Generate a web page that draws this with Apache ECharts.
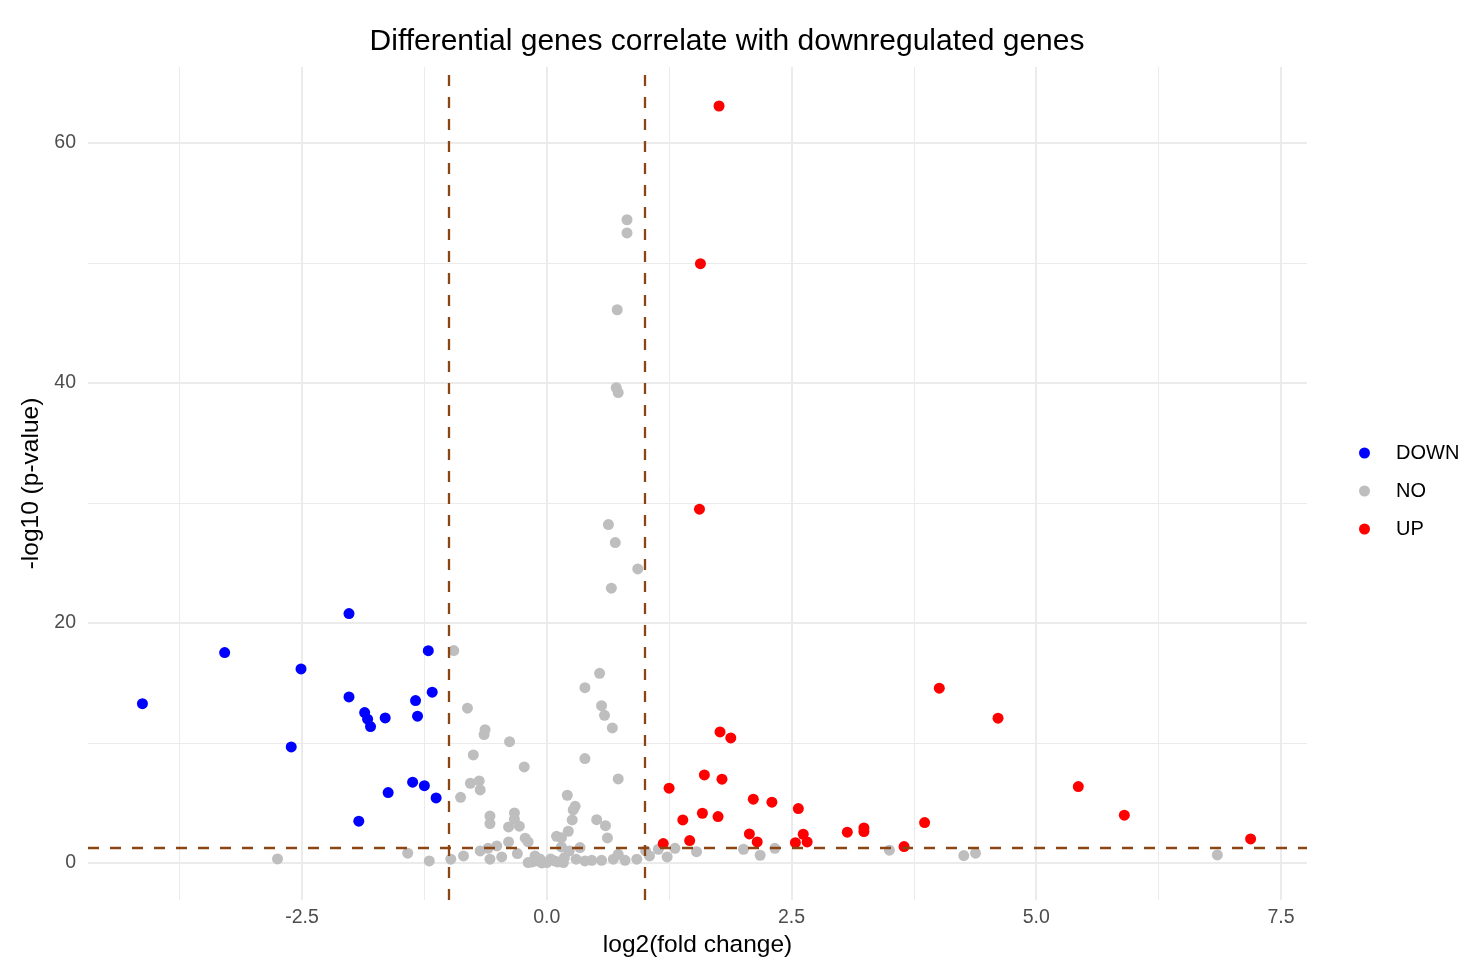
<!DOCTYPE html>
<html>
<head>
<meta charset="utf-8">
<script src="https://cdn.jsdelivr.net/npm/echarts@6/dist/echarts.min.js"></script>
<style>html,body{margin:0;padding:0;background:#fff;}#chart{width:1464px;height:962px;}</style>
</head>
<body>
<div id="chart"></div>
<script>
// ---- data ----
const downX = [-4.13,-3.29,-2.51,-2.61,-2.02,-2.02,-1.86,-1.83,-1.80,-1.65,-1.92,-1.62,-1.21,-1.34,-1.17,-1.32,-1.37,-1.25,-1.13];
const downY = [13.27,17.53,16.17,9.67,20.78,13.83,12.53,11.98,11.36,12.08,3.48,5.86,17.69,13.53,14.23,12.23,6.73,6.44,5.42];

const upX = [1.76,1.57,1.56,4.01,4.61,1.77,1.88,1.25,1.61,1.79,5.43,5.90,7.19,2.11,2.30,2.57,1.39,1.59,1.75,1.19,1.46,2.07,2.15,2.54,2.62,2.66,3.07,3.24,3.24,3.86,3.65];
const upY = [63.08,49.94,29.48,14.56,12.06,10.92,10.42,6.23,7.33,6.98,6.36,3.98,2.0,5.31,5.06,4.53,3.58,4.14,3.86,1.61,1.86,2.42,1.75,1.69,2.39,1.75,2.56,2.92,2.61,3.36,1.36];

const noX = [0.82,0.82,0.72,0.71,0.73,0.63,0.70,0.93,0.66,-0.95,0.54,0.39,-0.81,0.56,0.59,0.67,-0.63,-0.64,-0.38,-0.75,0.39,-0.23,0.73,-0.78,-0.69,-0.68,-0.88,0.21,0.29,0.27,0.26,0.22,0.10,0.15,0.15,0.51,0.60,0.62,-0.58,-0.58,-0.33,-0.33,-0.28,-0.39,-0.39,-0.22,-0.19,-0.51,-0.60,-0.58,-0.46,-0.30,-0.68,-0.85,-0.98,-1.20,-1.42,-2.75,-0.19,-0.11,0.00,0.08,0.17,-0.12,0.18,0.23,0.34,0.30,0.46,0.56,0.68,0.73,0.80,0.92,1.01,1.05,1.14,1.23,1.31,1.53,2.01,2.18,2.33,3.50,4.26,4.38,6.85,-0.07,0.04,0.11,-0.15,-0.05,0.39];
const noY = [53.6,52.5,46.1,39.6,39.2,28.2,26.7,24.5,22.9,17.7,15.8,14.6,12.9,13.1,12.3,11.25,11.1,10.7,10.1,9.0,8.7,8.0,7.0,6.64,6.83,6.08,5.47,5.64,4.72,4.42,3.58,2.64,2.22,2.1,1.33,3.6,3.1,2.08,3.9,3.28,4.17,3.64,3.06,3.0,1.75,2.06,1.75,1.42,1.22,0.31,0.5,0.78,1.0,0.58,0.31,0.17,0.81,0.33,0.03,0.17,0.03,0.17,0.03,0.58,0.44,1.0,1.28,0.31,0.22,0.22,0.31,0.72,0.22,0.31,1.0,0.58,1.14,0.5,1.22,0.94,1.14,0.64,1.22,1.06,0.61,0.81,0.67,0.33,0.33,0.08,0.08,0.0,0.17];

const xTicks = [-2.5, 0, 2.5, 5, 7.5];
const xMinor = [-3.75, -1.25, 1.25, 3.75, 6.25];
const yTicks = [0, 20, 40, 60];
const yMinor = [10, 30, 50];
const vCut = [-1, 1];
const hCut = [1.30103];

const pairs = (xs, ys) => xs.map((x, i) => [x, ys[i]]);
const FONT = '"Liberation Sans", Arial, Helvetica, sans-serif';
const GRID = '#ebebeb';

const chart = echarts.init(document.getElementById('chart'), null, {renderer: 'canvas'});

const gridLines = [];
xMinor.forEach(v => gridLines.push({xAxis: v, lineStyle: {width: 1, color: GRID, type: 'solid'}}));
yMinor.forEach(v => gridLines.push({yAxis: v, lineStyle: {width: 1, color: GRID, type: 'solid'}}));
xTicks.forEach(v => gridLines.push({xAxis: v, lineStyle: {width: 2, color: GRID, type: 'solid'}}));
yTicks.forEach(v => gridLines.push({yAxis: v, lineStyle: {width: 2, color: GRID, type: 'solid'}}));

const cutLines = [];
vCut.forEach(v => cutLines.push({xAxis: v}));
hCut.forEach(v => cutLines.push({yAxis: v}));

chart.setOption({
  animation: false,
  backgroundColor: '#ffffff',
  title: {
    text: 'Differential genes correlate with downregulated genes',
    left: 722, top: 22, textAlign: 'center',
    textStyle: {fontFamily: FONT, fontSize: 30, fontWeight: 'normal', color: '#000'}
  },
  legend: {
    data: ['DOWN', 'NO', 'UP'],
    orient: 'vertical',
    left: 1354, top: 438,
    itemWidth: 11, itemHeight: 11, itemGap: 18,
    icon: 'circle',
    textStyle: {fontFamily: FONT, fontSize: 20, color: '#000', padding: [0, 0, 0, 21]}
  },
  grid: {left: 88, right: 157, top: 67, bottom: 62, containLabel: false, outerBoundsMode: 'none'},
  xAxis: {
    type: 'value', min: -4.686, max: 7.766,
    name: 'log2(fold change)', nameLocation: 'middle', nameGap: 31,
    nameTextStyle: {fontFamily: FONT, fontSize: 24.5, color: '#000'},
    axisLine: {show: false}, axisTick: {show: false}, splitLine: {show: false},
    axisLabel: {customValues: xTicks, formatter: v => v.toFixed(1), fontFamily: FONT, fontSize: 19.5, color: '#4d4d4d', margin: 8}
  },
  yAxis: {
    type: 'value', min: -3.09, max: 66.33,
    name: '-log10 (p-value)', nameLocation: 'middle', nameGap: 37, nameRotate: 90,
    nameTextStyle: {fontFamily: FONT, fontSize: 24.5, color: '#000'},
    axisLine: {show: false}, axisTick: {show: false}, splitLine: {show: false},
    axisLabel: {customValues: yTicks, formatter: v => String(v), fontFamily: FONT, fontSize: 19.5, color: '#4d4d4d', margin: 12}
  },
  series: [
    {
      name: 'gridlines', type: 'scatter', data: [], z: 0, silent: true,
      markLine: {z: 0, silent: true, symbol: ['none', 'none'], label: {show: false}, animation: false, data: gridLines}
    },
    {name: 'DOWN', type: 'scatter', data: pairs(downX, downY), symbolSize: 11, itemStyle: {color: '#0000ff', opacity: 1}, z: 3},
    {name: 'NO', type: 'scatter', data: pairs(noX, noY), symbolSize: 11, itemStyle: {color: '#bebebe', opacity: 1}, z: 2},
    {name: 'UP', type: 'scatter', data: pairs(upX, upY), symbolSize: 11, itemStyle: {color: '#ff0000', opacity: 1}, z: 3},
    {
      name: 'cutoffs', type: 'scatter', data: [], z: 6, silent: true,
      markLine: {z: 6, silent: true, symbol: ['none', 'none'], label: {show: false}, animation: false,
        lineStyle: {color: '#8b4513', width: 2.3, type: [11, 11]}, data: cutLines}
    }
  ]
});
</script>
</body>
</html>
